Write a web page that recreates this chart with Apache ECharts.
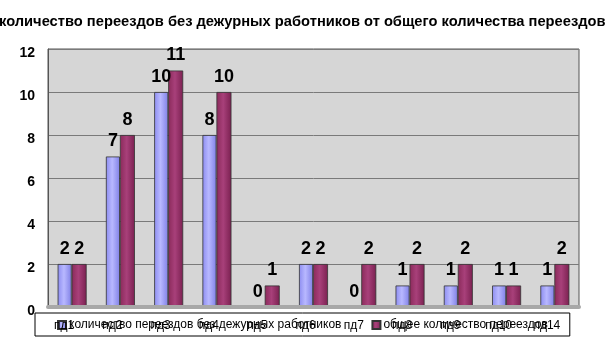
<!DOCTYPE html>
<html><head><meta charset="utf-8">
<script src="https://cdn.jsdelivr.net/npm/echarts@6/dist/echarts.min.js"></script>
<style>html,body{margin:0;padding:0;background:#fff}#c{width:605px;height:340px}</style>
</head><body><div id="c"></div>
<script>
const titleText = 'количество переездов без дежурных работников от общего количества переездов';
const categories = ['пд1','пд2','пд3','пд4','пд5','пд6','пд7','пд8','пд9','пд10','пд14'];
const seriesNames = ['количество переездов без дежурных работников','общее количество переездов'];
const withoutStaff = [2,7,10,8,0,2,0,1,1,1,1];
const totalCrossings = [2,8,11,10,1,2,2,2,2,1,2];
const yTicks = [0,2,4,6,8,10,12];

const chart = echarts.init(document.getElementById('c'));
const lbl = {show:true, position:'top', distance:6, fontFamily:'Liberation Sans, Arial', fontWeight:'bold', fontSize:18, color:'#000'};
function cyl(c1,c2,c3){return {type:'linear',x:0,y:0,x2:1,y2:0,colorStops:[{offset:0,color:c1},{offset:0.45,color:c2},{offset:1,color:c3}]};}
chart.setOption({
  animation:false,
  title:{text:titleText,left:-1,top:14,padding:0,textStyle:{fontFamily:'Liberation Sans, Arial',fontWeight:'bold',fontSize:14.7,color:'#000'}},
  grid:{left:48,right:26,top:49,bottom:33,show:true,backgroundColor:'#d6d6d6',borderColor:'#555',borderWidth:1},
  legend:{left:35,top:313,z:1,backgroundColor:'#fff',borderColor:'#000',borderWidth:1,
    padding:[6,22,5,22],itemGap:30,itemWidth:8,itemHeight:8,icon:'rect',
    textStyle:{fontFamily:'Liberation Sans, Arial',fontSize:12,color:'#000',padding:[0,0,0,-2]},
    data:seriesNames},
  xAxis:{type:'category',data:categories,z:5,
    axisLine:{lineStyle:{color:'#a8a8a8',width:4}},axisTick:{show:false},
    axisLabel:{margin:13,fontFamily:'Liberation Sans, Arial',fontSize:12,color:'#000',padding:[0,16,0,0]}},
  yAxis:{type:'value',min:yTicks[0],max:yTicks[yTicks.length-1],interval:2,
    axisLine:{show:true,lineStyle:{color:'#555'}},axisTick:{show:false},
    splitLine:{lineStyle:{color:'#7a7a7a',width:1}},
    axisLabel:{margin:13,formatter:v=>'{a|'+v+'}',rich:{a:{fontFamily:'Liberation Sans, Arial',fontWeight:'bold',fontSize:14,color:'#000',padding:[8,0,0,0]}}}},
  series:[
    {name:seriesNames[0],type:'bar',data:withoutStaff,barWidth:14,barGap:'0%',
      itemStyle:{color:cyl('#8c8cf0','#b8b8ff','#8080e6'),borderColor:'#333',borderWidth:0.8},label:lbl},
    {name:seriesNames[1],type:'bar',data:totalCrossings,barWidth:15,barGap:'0%',
      itemStyle:{color:cyl('#8a2a5a','#a8407a','#7a2050'),borderColor:'#333',borderWidth:0.8},label:lbl}
  ]
});
</script></body></html>
